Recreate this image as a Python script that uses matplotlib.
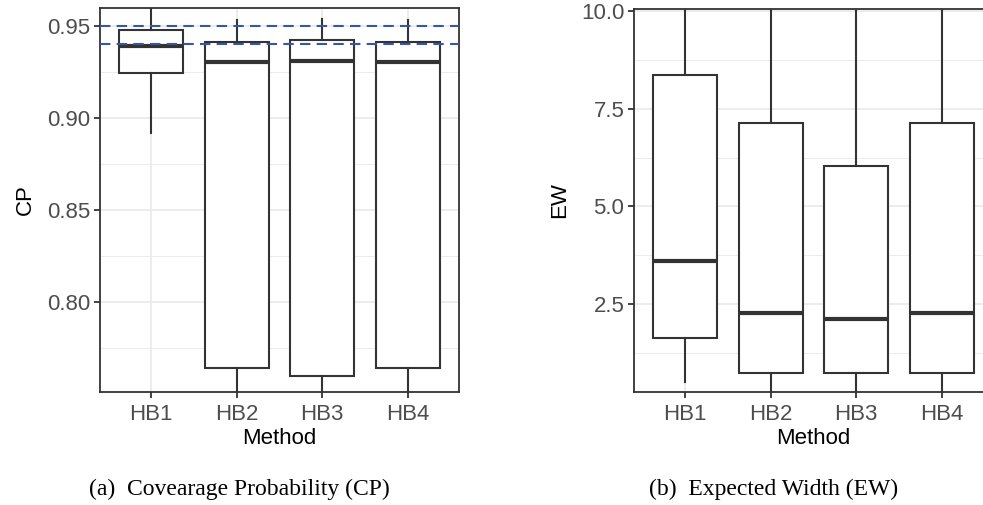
import matplotlib
matplotlib.use("Agg")
import matplotlib.pyplot as plt

methods = ["HB1", "HB2", "HB3", "HB4"]

# coverage probability: box stats
cp_whislo = [0.892, 0.70, 0.70, 0.70]
cp_q1 = [0.9243, 0.7643, 0.7600, 0.7643]
cp_med = [0.9393, 0.9303, 0.9310, 0.9303]
cp_q3 = [0.9477, 0.9413, 0.9422, 0.9413]
cp_whishi = [0.975, 0.9533, 0.9540, 0.9533]
cp_refs = [0.95, 0.94]

# expected width
ew_whislo = [0.52, 0.10, 0.10, 0.10]
ew_q1 = [1.64, 0.75, 0.73, 0.75]
ew_med = [3.61, 2.28, 2.115, 2.28]
ew_q3 = [8.36, 7.14, 6.04, 7.14]
ew_whishi = [12.0, 12.0, 12.0, 12.0]

DARK = "#333333"
GRID = "#EBEBEB"
TICKC = "#4D4D4D"
FS = 16

plt.rcParams["font.family"] = ["Liberation Sans", "DejaVu Sans"]

fig = plt.figure(figsize=(9.83, 5.05), dpi=100)


def stats(lo, q1, med, q3, hi):
    return [dict(whislo=a, q1=b, med=c, q3=d, whishi=e, fliers=[])
            for a, b, c, d, e in zip(lo, q1, med, q3, hi)]


def draw(ax, st, ylim, major, minor, ylabel):
    ax.set_axisbelow(True)
    ax.bxp(st, positions=range(1, len(methods) + 1), widths=0.75,
           showcaps=False, patch_artist=True,
           boxprops=dict(facecolor="white", edgecolor=DARK, linewidth=1.5),
           whiskerprops=dict(color=DARK, linewidth=1.5),
           medianprops=dict(color=DARK, linewidth=3.0, solid_capstyle="butt"))
    ax.set_xlim(0.4, 4.6)
    ax.set_ylim(*ylim)
    ax.set_xticks(range(1, len(methods) + 1))
    ax.set_xticklabels(methods)
    ax.set_yticks(major)
    ax.set_yticks(minor, minor=True)
    ax.grid(True, which="major", color=GRID, linewidth=1.3)
    ax.grid(True, which="minor", axis="y", color=GRID, linewidth=0.7)
    ax.tick_params(which="major", length=4, width=1.3, color=DARK,
                   labelcolor=TICKC, labelsize=FS)
    ax.tick_params(axis="x", pad=5)
    ax.tick_params(axis="y", pad=3)
    ax.tick_params(which="minor", length=0)
    for s in ax.spines.values():
        s.set_color(DARK)
        s.set_linewidth(1.3)
    ax.set_xlabel("Method", fontsize=FS, color="black", labelpad=2)
    ax.set_ylabel(ylabel, fontsize=FS, color="black", labelpad=8)


ax1 = fig.add_axes([0.1017, 0.2238, 0.3652, 0.7604])
draw(ax1, stats(cp_whislo, cp_q1, cp_med, cp_q3, cp_whishi),
     (0.7511, 0.9598), [0.80, 0.85, 0.90, 0.95],
     [0.775, 0.825, 0.875, 0.925], "CP")
ax1.set_yticklabels(["0.80", "0.85", "0.90", "0.95"])
for r in cp_refs:
    ax1.axhline(r, color="#3A55A4", linewidth=1.5, linestyle=(0, (5, 3)), zorder=5)

ax2 = fig.add_axes([0.645, 0.2238, 0.3652, 0.7584])
draw(ax2, stats(ew_whislo, ew_q1, ew_med, ew_q3, ew_whishi),
     (0.256, 10.05), [2.5, 5.0, 7.5, 10.0],
     [1.25, 3.75, 6.25, 8.75], "EW")
ax2.set_yticklabels(["2.5", "5.0", "7.5", "10.0"])

fig.text(0.244, 0.03, "(a)  Covearage Probability (CP)", ha="center", va="center",
         fontsize=17, family=["Liberation Serif", "DejaVu Serif"])
fig.text(0.787, 0.03, "(b)  Expected Width (EW)", ha="center", va="center",
         fontsize=17, family=["Liberation Serif", "DejaVu Serif"])

fig.savefig("out.png", dpi=100)
